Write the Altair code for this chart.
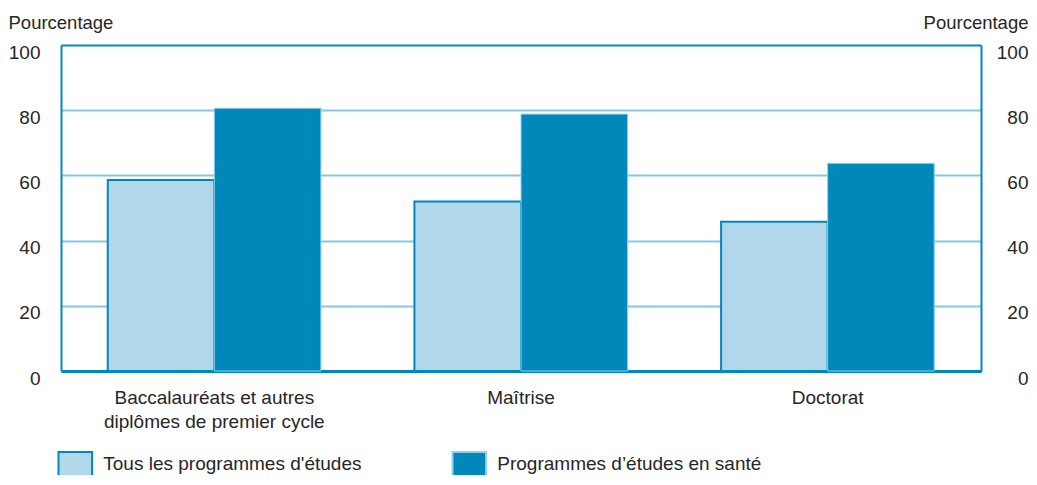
import altair as alt
import pandas as pd

categories = ["Baccalauréats et autres\ndiplômes de premier cycle", "Maîtrise", "Doctorat"]
series = ["Tous les programmes d'études", "Programmes d’études en santé"]
tous = [58.6, 52.0, 45.8]
sante = [80.6, 78.8, 63.7]
y_ticks = [0, 20, 40, 60, 80, 100]

rows = []
for c, a, b in zip(categories, tous, sante):
    rows.append({"cat": c, "series": series[0], "value": a})
    rows.append({"cat": c, "series": series[1], "value": b})
df = pd.DataFrame(rows)

FONT = "Liberation Sans"
TXT = "#262626"
DARK = "#0088bb"
LIGHT = "#b0d8ea"
GRID = "#86c7e4"

x_enc = alt.X(
    "cat:N",
    sort=categories,
    scale=alt.Scale(paddingInner=0.305, paddingOuter=0.1525),
    axis=alt.Axis(
        title=None,
        labelAngle=0,
        labelExpr="split(datum.label, '\\n')",
        labelFont=FONT,
        labelFontSize=19,
        labelColor=TXT,
        labelPadding=17,
        labelBaseline="top",
        labelLineHeight=24,
        labelLimit=400,
        ticks=False,
        domainColor=DARK,
        domainWidth=3,
        grid=False,
    ),
)

y_scale = alt.Scale(domain=[0, 100], nice=False)

grid_color = {
    "condition": {"test": "datum.value >= 100 || datum.value <= 0", "value": DARK},
    "value": GRID,
}

bars = alt.Chart(df).mark_bar().encode(
    x=x_enc,
    xOffset=alt.XOffset("series:N", sort=series),
    y=alt.Y(
        "value:Q",
        scale=y_scale,
        axis=alt.Axis(
            values=y_ticks,
            title="Pourcentage",
            titleAngle=0,
            titleAlign="left",
            titleBaseline="alphabetic",
            titleX=-53,
            titleY=-16.5,
            titleFont=FONT,
            titleFontSize=18.5,
            titleFontWeight="normal",
            titleColor=TXT,
            labelFont=FONT,
            labelFontSize=19,
            labelColor=TXT,
            labelPadding=21,
            labelBaseline="top",
            labelOffset=-2,
            ticks=False,
            domain=True,
            domainColor=DARK,
            domainWidth=2,
            grid=True,
            gridColor=grid_color,
            gridWidth=2,
        ),
    ),
    fill=alt.Fill(
        "series:N",
        sort=series,
        scale=alt.Scale(domain=series, range=[LIGHT, DARK]),
        title=None,
        legend=alt.Legend(
            orient="none",
            legendX=1.3,
            legendY=406,
            direction="horizontal",
            symbolType="M-1.4,-1H1.4V1H-1.4Z",
            symbolSize=576,
            symbolStrokeWidth=2,
            labelFont=FONT,
            labelFontSize=19,
            labelColor=TXT,
            labelOffset=15,
            columnPadding=86,
            padding=0,
            labelLimit=400,
        ),
    ),
    stroke=alt.Stroke(
        "series:N",
        sort=series,
        scale=alt.Scale(domain=series, range=[DARK, "#8fd0ec"]),
        title=None,
    ),
    strokeWidth=alt.condition(alt.datum.series == series[0], alt.value(2), alt.value(1)),
)

right = alt.Chart(df).mark_bar(opacity=0).encode(
    x=x_enc,
    y=alt.Y(
        "value:Q",
        scale=y_scale,
        axis=alt.Axis(
            orient="right",
            values=y_ticks,
            title="Pourcentage",
            titleAngle=0,
            titleAlign="right",
            titleBaseline="alphabetic",
            titleX=47,
            titleY=-16.5,
            titleFont=FONT,
            titleFontSize=18.5,
            titleFontWeight="normal",
            titleColor=TXT,
            labelFont=FONT,
            labelFontSize=19,
            labelColor=TXT,
            labelPadding=47,
            labelAlign="right",
            labelBaseline="top",
            labelOffset=-2,
            ticks=False,
            domain=True,
            domainColor=DARK,
            domainWidth=2,
            grid=False,
        ),
    ),
)

chart = (
    alt.layer(bars, right)
    .resolve_scale(y="independent")
    .properties(
        width=920,
        height=326,
        autosize=alt.AutoSizeParams(type="none"),
        padding={"left": 53, "top": 37, "right": 48, "bottom": 104},
    )
    .configure_view(stroke=DARK, strokeWidth=2)
    .configure(background="white")
)

chart.save("out.html", embed_options={"renderer": "svg", "actions": False})
